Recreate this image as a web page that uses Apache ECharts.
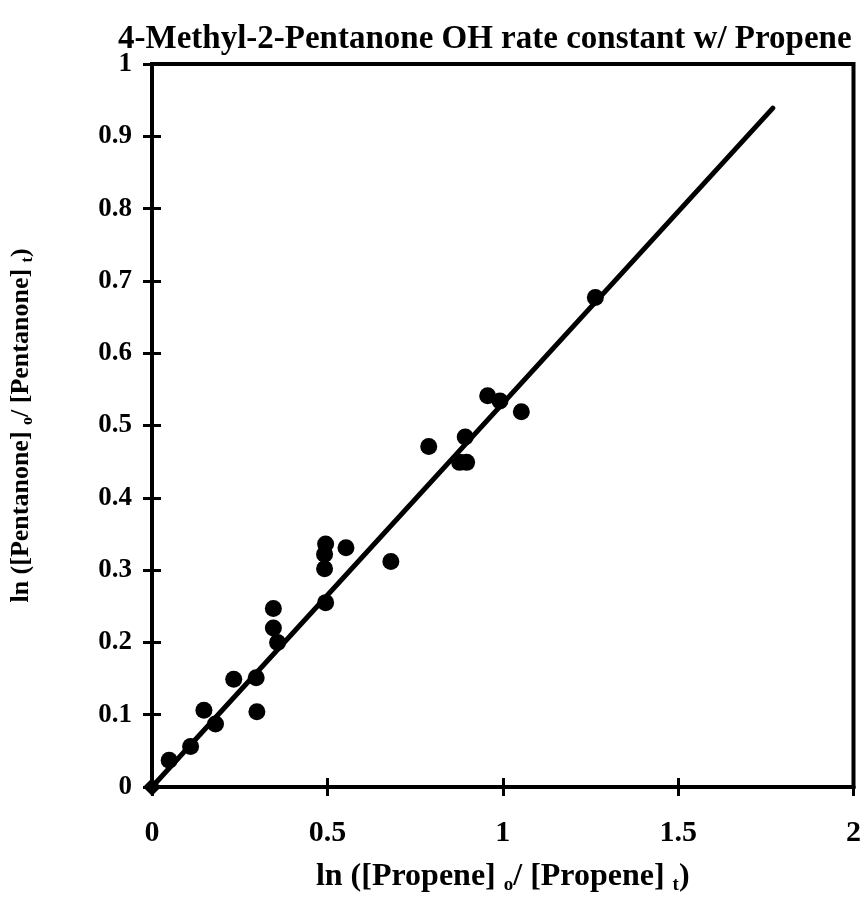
<!DOCTYPE html>
<html>
<head>
<meta charset="utf-8">
<script src="https://cdn.jsdelivr.net/npm/echarts@6/dist/echarts.min.js"></script>
<style>html,body{margin:0;padding:0;background:#fff}#c{width:864px;height:909px}</style>
</head>
<body>
<div id="c"></div>
<script>
// Measured data: ln([Propene]o/[Propene]t) vs ln([Pentanone]o/[Pentanone]t)
var propeneX = [0.049, 0.110, 0.148, 0.181, 0.233, 0.297, 0.299, 0.346, 0.346, 0.358,
                0.495, 0.492, 0.492, 0.495, 0.553, 0.681, 0.789, 0.877, 0.897, 0.893,
                0.957, 0.992, 1.053, 1.264];
var pentanoneY = [0.037, 0.056, 0.106, 0.087, 0.149, 0.151, 0.104, 0.247, 0.220, 0.200,
                  0.255, 0.302, 0.322, 0.336, 0.331, 0.312, 0.471, 0.449, 0.449, 0.484,
                  0.541, 0.534, 0.519, 0.677];
var originX = [0];
var originY = [0];
var fitX = [0, 1.770];
var fitY = [0, 0.939];
var xTicks = [0, 0.5, 1, 1.5, 2];
var yTicks = [0, 0.1, 0.2, 0.3, 0.4, 0.5, 0.6, 0.7, 0.8, 0.9, 1];

var FONT = 'Liberation Serif';
function zip(a, b) { return a.map(function (v, i) { return [v, b[i]]; }); }

var chart = echarts.init(document.getElementById('c'), null, {renderer: 'canvas'});
var xBase = {
  type: 'value', min: xTicks[0], max: xTicks[xTicks.length - 1], interval: 0.5,
  splitLine: {show: false},
  axisLine: {show: true, lineStyle: {color: '#000', width: 4}}
};
var yBase = {
  type: 'value', min: yTicks[0], max: yTicks[yTicks.length - 1], interval: 0.1,
  splitLine: {show: false},
  axisLine: {show: true, lineStyle: {color: '#000', width: 4}}
};
chart.setOption({
  backgroundColor: '#fff',
  animation: false,
  title: {
    text: '4-Methyl-2-Pentanone OH rate constant w/ Propene',
    left: 113, top: 18,
    textStyle: {fontFamily: FONT, fontWeight: 'bold', fontSize: 33, color: '#000'}
  },
  grid: {left: 151, right: 6, top: 64, bottom: 122, show: true, borderColor: '#000', borderWidth: 4},
  xAxis: [
    Object.assign({}, xBase, {
      position: 'bottom',
      name: '{b|ln ([Propene] }{s|o}{b|/ [Propene] }{s|t}{b|)}',
      nameLocation: 'middle', nameGap: 71,
      nameTextStyle: {
        rich: {
          b: {fontFamily: FONT, fontWeight: 'bold', fontSize: 32, color: '#000'},
          s: {fontFamily: FONT, fontWeight: 'bold', fontSize: 19, color: '#000', padding: [18, 0, 0, 0]}
        }
      },
      axisTick: {show: true, inside: false, length: 9, lineStyle: {color: '#000', width: 3}},
      axisLabel: {show: true, margin: 31, fontFamily: FONT, fontWeight: 'bold', fontSize: 30, color: '#000',
        formatter: function (v) { return String(v); }}
    }),
    Object.assign({}, xBase, {
      position: 'bottom',
      axisTick: {show: true, inside: true, length: 9, lineStyle: {color: '#000', width: 3}},
      axisLabel: {show: false}
    })
  ],
  yAxis: [
    Object.assign({}, yBase, {
      position: 'left',
      name: '{b|ln ([Pentanone] }{s|o}{b|/ [Pentanone] }{s|t}{b|)}',
      nameLocation: 'middle', nameGap: 116, nameRotate: 90,
      nameTextStyle: {
        rich: {
          b: {fontFamily: FONT, fontWeight: 'bold', fontSize: 26, color: '#000'},
          s: {fontFamily: FONT, fontWeight: 'bold', fontSize: 16, color: '#000', padding: [14, 0, 0, 0]}
        }
      },
      axisTick: {show: true, inside: false, length: 9, lineStyle: {color: '#000', width: 3}},
      axisLabel: {show: true, margin: 20, fontFamily: FONT, fontWeight: 'bold', fontSize: 27, color: '#000',
        formatter: function (v) { return String(Math.round(v * 10) / 10); }}
    }),
    Object.assign({}, yBase, {
      position: 'left',
      axisTick: {show: true, inside: true, length: 9, lineStyle: {color: '#000', width: 3}},
      axisLabel: {show: false}
    })
  ],
  series: [
    {
      type: 'line', xAxisIndex: 0, yAxisIndex: 0,
      data: zip(fitX, fitY), symbol: 'none', clip: false,
      lineStyle: {color: '#000', width: 5, cap: 'round'}
    },
    {
      type: 'scatter', xAxisIndex: 0, yAxisIndex: 0,
      data: zip(propeneX, pentanoneY), symbol: 'circle', symbolSize: 17, clip: false,
      itemStyle: {color: '#000', opacity: 1}
    },
    {
      type: 'scatter', xAxisIndex: 0, yAxisIndex: 0,
      data: zip(originX, originY), symbol: 'diamond', symbolSize: [18, 18], clip: false,
      itemStyle: {color: '#000', opacity: 1}
    }
  ]
});
</script>
</body>
</html>
